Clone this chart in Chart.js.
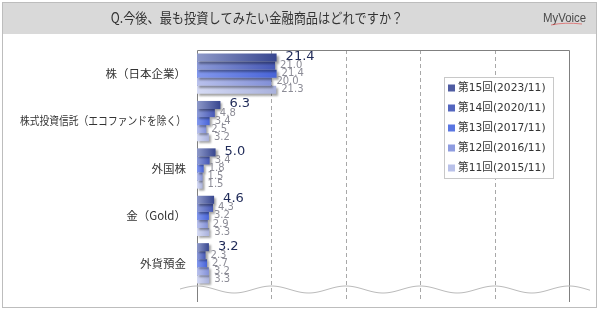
<!DOCTYPE html>
<html><head><meta charset="utf-8">
<script src="https://cdn.jsdelivr.net/npm/chart.js@4"></script>
<style>html,body{margin:0;padding:0;background:#fff;}#wrap{width:600px;height:312px;}</style>
</head><body><div id="wrap"><canvas id="c" width="600" height="312"></canvas></div>
<script>
const categories = ['株（日本企業）','株式投資信託（エコファンドを除く）','外国株','金（Gold）','外貨預金'];
const seriesLabels = ['第15回(2023/11)','第14回(2020/11)','第13回(2017/11)','第12回(2016/11)','第11回(2015/11)'];
const s15 = [21.4, 6.3, 5.0, 4.6, 3.2];
const s14 = [21.0, 4.8, 3.4, 4.3, 2.3];
const s13 = [21.4, 3.4, 1.8, 3.2, 2.7];
const s12 = [20.0, 2.5, 1.5, 2.9, 3.2];
const s11 = [21.3, 3.2, 1.5, 3.3, 3.3];
const gridTicks = [20, 40, 60, 80];
const title = 'Q.今後、最も投資してみたい金融商品はどれですか？';

const gradStops = [
  ['#8e99c9','#37468f'],
  ['#8d9bd8','#4658b6'],
  ['#8398ec','#4864d8'],
  ['#b9c1ec','#8290d8'],
  ['#d6dbf4','#a9b1dc']
];
const swatch = ['#4f5ca2','#5466bf','#5a76e2','#8e9ce0','#b9c1e9'];
const allSeries = [s15, s14, s13, s12, s11];

function makeBg(i){
  return function(ctx){
    const chart = ctx.chart;
    const ca = chart.chartArea;
    if(!ca || ctx.type !== 'data') return swatch[i];
    const xs = chart.scales.x;
    const end = xs.getPixelForValue(ctx.raw);
    const g = chart.ctx.createLinearGradient(ca.left, 0, Math.max(end, ca.left+1), 0);
    g.addColorStop(0, gradStops[i][0]);
    g.addColorStop(1, gradStops[i][1]);
    return g;
  };
}

const decor = {
  id: 'decor',
  beforeDraw(chart){
    const c = chart.ctx;
    c.save();
    c.fillStyle = '#fff';
    c.fillRect(0,0,600,312);
    c.fillStyle = '#d9d9d9';
    c.fillRect(3,3,593,31);
    c.strokeStyle = '#bdbdbd';
    c.lineWidth = 1;
    c.strokeRect(2.5,2.5,594,305);
    c.fillStyle = '#333';
    c.font = '14px "Noto Sans CJK JP"';
    c.textBaseline = 'middle';
    c.textAlign = 'center';
    c.save();
    c.translate(257, 18);
    c.scale(0.87, 1);
    c.fillText(title, 0, 0);
    c.restore();
    c.fillStyle = '#4a4a4a';
    c.font = '12px "Liberation Sans"';
    c.textAlign = 'left';
    c.save();
    c.translate(543, 19);
    c.scale(0.95, 1);
    c.fillText('MyVoice', 0, 0);
    c.restore();
    c.strokeStyle = '#d55';
    c.lineWidth = 0.7;
    c.beginPath();
    c.moveTo(551, 25); c.quadraticCurveTo(565, 22, 582, 24);
    c.stroke();
    // category labels from the y scale
    const ys = chart.scales.y;
    c.fillStyle = '#333';
    c.font = '11.5px "Noto Sans CJK JP"';
    c.textAlign = 'right';
    chart.data.labels.forEach((lab, i) => {
      const y = ys.getPixelForTick(i);
      c.fillText(lab, 186, y, 166);
    });
    c.restore();
  },
  beforeDatasetsDraw(chart){
    const c = chart.ctx;
    const ca = chart.chartArea;
    const xs = chart.scales.x;
    const top = ca.top, bot = 302;
    c.save();
    c.strokeStyle = '#a8a8a8';
    c.lineWidth = 1;
    c.setLineDash([4,3]);
    gridTicks.forEach(v => {
      const x = Math.round(xs.getPixelForValue(v)) + 0.5;
      c.beginPath(); c.moveTo(x, top); c.lineTo(x, bot); c.stroke();
    });
    c.setLineDash([]);
    c.strokeStyle = '#808080';
    const l = Math.round(xs.getPixelForValue(0)) + 0.5;
    const r = Math.round(xs.getPixelForValue(100)) + 0.5;
    c.beginPath();
    c.moveTo(l, bot); c.lineTo(l, top + 0.5); c.lineTo(r, top + 0.5); c.lineTo(r, bot);
    c.stroke();
    c.restore();
    c.save();
    c.shadowColor = 'rgba(0,0,0,0.35)';
    c.shadowOffsetX = 2;
    c.shadowOffsetY = 2;
    c.shadowBlur = 2;
  },
  afterDatasetsDraw(chart){
    const c = chart.ctx;
    c.restore();
    const xs = chart.scales.x;
    // wave break
    c.save();
    const g0 = xs.getPixelForValue(20);
    const period = xs.getPixelForValue(20) - xs.getPixelForValue(0);
    c.strokeStyle = '#bbbbbb';
    c.lineWidth = 1;
    c.beginPath();
    for(let x = 180; x <= 590; x++){
      const y = 289.5 - 3.5*Math.cos(2*Math.PI*(x - g0)/period);
      if(x === 180) c.moveTo(x,y); else c.lineTo(x,y);
    }
    c.stroke();
    c.restore();
    // labels
    c.save();
    c.textBaseline = 'middle';
    c.textAlign = 'left';
    chart.data.datasets.forEach((ds, di) => {
      const meta = chart.getDatasetMeta(di);
      meta.data.forEach((bar, i) => {
        const v = ds.data[i];
        if(di === 0){
          c.fillStyle = '#1f2a58';
          c.font = '13px "DejaVu Sans"';
          c.fillText(v.toFixed(1), bar.x + 9, bar.y - 1);
        } else {
          c.fillStyle = '#8c8c96';
          c.font = '10px "DejaVu Sans"';
          c.fillText(v.toFixed(1), bar.x + 5, bar.y);
        }
      });
    });
    c.restore();
    // legend
    c.save();
    c.fillStyle = '#fff';
    c.fillRect(444, 77, 109, 101);
    c.strokeStyle = '#c8c8c8';
    c.lineWidth = 1;
    c.strokeRect(444.5, 77.5, 109, 101);
    c.font = '11px "DejaVu Sans", "Noto Sans CJK JP"';
    c.textBaseline = 'middle';
    c.textAlign = 'left';
    seriesLabels.forEach((lab, i) => {
      const y = 88 + i*20;
      c.fillStyle = swatch[i];
      c.fillRect(448, y - 3.5, 7, 7);
      c.fillStyle = '#333';
      c.save();
      c.translate(458, y);
      c.scale(0.97, 1);
      c.fillText(lab, 0, 0);
      c.restore();
    });
    c.restore();
  }
};

const datasets = allSeries.map((d, i) => ({
  label: seriesLabels[i],
  data: d,
  backgroundColor: makeBg(i),
  borderWidth: 0,
  categoryPercentage: 0.85,
  barPercentage: 1.0
}));

new Chart(document.getElementById('c'), {
  type: 'bar',
  data: { labels: categories, datasets },
  options: {
    indexAxis: 'y',
    responsive: false,
    animation: false,
    layout: { padding: { left: 3, top: 50, right: 31, bottom: 25 } },
    plugins: { legend: { display: false }, tooltip: { enabled: false } },
    scales: {
      x: {
        min: 0, max: 100,
        ticks: { display: false },
        grid: { display: false },
        border: { display: false },
        afterFit(s){ s.height = 0; }
      },
      y: {
        ticks: { display: false },
        grid: { display: false },
        border: { display: false },
        afterFit(s){ s.width = 194; }
      }
    }
  },
  plugins: [decor]
});
</script>
</body></html>
